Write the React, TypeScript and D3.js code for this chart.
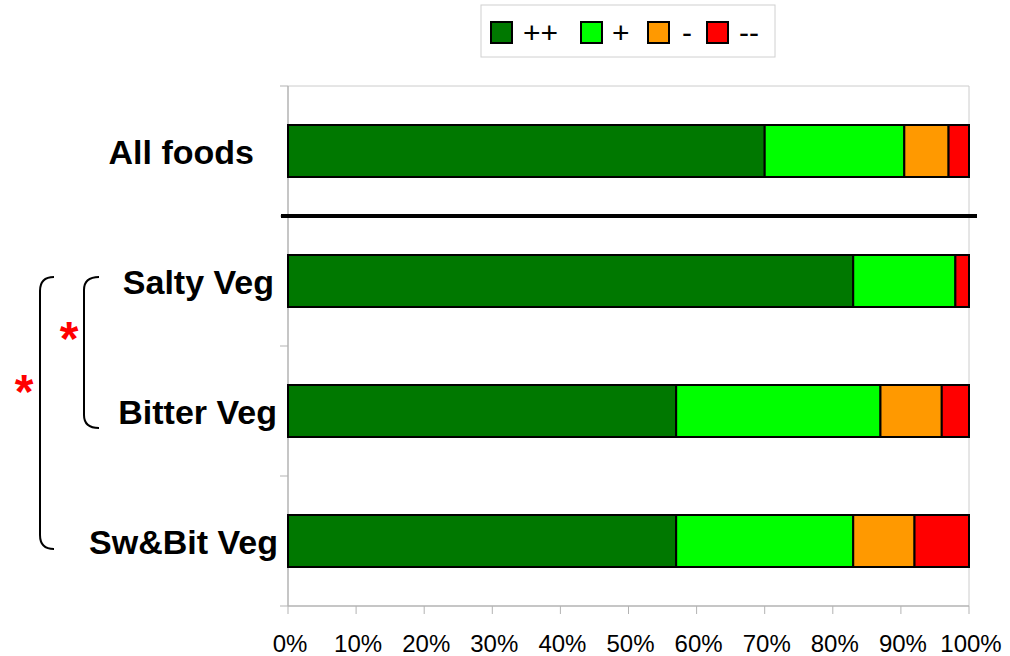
import React from "react";
import * as d3 from "d3";

const categories = ["All foods", "Salty Veg", "Bitter Veg", "Sw&Bit Veg"];
const seriesNames = ["++", "+", "-", "--"];
const seriesColors = ["#007800", "#00ff00", "#ff9900", "#ff0000"];
const vPlusPlus = [70, 83, 57, 57];
const vPlus = [20.5, 15, 30, 26];
const vMinus = [6.5, 0, 9, 9];
const vMinusMinus = [3, 2, 4, 8];
const xTicks = [0, 10, 20, 30, 40, 50, 60, 70, 80, 90, 100];

const W = 1010, H = 656;
const left = 288, right = 969, top = 86, bottom = 606;

export default function App() {
  const x = d3.scaleLinear().domain([0, 100]).range([left, right]);
  const y = d3.scaleBand<string>().domain(categories).range([top, bottom]).paddingInner(0.6).paddingOuter(0.3);
  const step = y.step();
  const series = [vPlusPlus, vPlus, vMinus, vMinusMinus];
  const stackData = categories.map((c, i) => {
    const o: any = { cat: c };
    seriesNames.forEach((s, k) => (o[s] = series[k][i]));
    return o;
  });
  const stacked = d3.stack<any>().keys(seriesNames)(stackData);
  const font = "Liberation Sans, Arial, sans-serif";
  const bandEdges = d3.range(categories.length + 1).map((i) => top + i * step);
  const labelOffsets = [-23, -3, 0, 1];

  const legendItems = [
    { sx: 491, tx: 523 },
    { sx: 581, tx: 612 },
    { sx: 648, tx: 682 },
    { sx: 707, tx: 739 },
  ];

  return (
    <svg width={W} height={H} style={{ position: "absolute", left: 0, top: 0 }}>
      <rect width={W} height={H} fill="#fff" />
      {/* plot frame */}
      <line x1={left} x2={right} y1={top} y2={top} stroke="#cccccc" strokeWidth={1} />
      <line x1={right} x2={right} y1={top} y2={bottom} stroke="#cccccc" strokeWidth={1} />
      <line x1={left} x2={left} y1={top} y2={bottom} stroke="#b3b3b3" strokeWidth={1.5} />
      <line x1={left} x2={right} y1={bottom} y2={bottom} stroke="#b3b3b3" strokeWidth={1.5} />
      {bandEdges.map((e, i) => (
        <line key={i} x1={left - 8} x2={left} y1={e} y2={e} stroke="#b3b3b3" strokeWidth={1} />
      ))}
      {xTicks.map((t) => (
        <g key={t}>
          <line x1={x(t)} x2={x(t)} y1={bottom} y2={bottom + 8} stroke="#b3b3b3" strokeWidth={1} />
          <text x={x(t) + 2} y={652} textAnchor="middle" fontFamily={font} fontSize={24} fill="#000">
            {t}%
          </text>
        </g>
      ))}
      {/* bars */}
      {stacked.map((s, k) =>
        s.map((d, i) =>
          d[1] - d[0] > 0 ? (
            <rect
              key={k + "-" + i}
              x={x(d[0])}
              y={y(categories[i])!}
              width={x(d[1]) - x(d[0])}
              height={y.bandwidth()}
              fill={seriesColors[k]}
              stroke="#000"
              strokeWidth={2}
            />
          ) : null
        )
      )}
      {/* separator */}
      <line x1={281} x2={977} y1={top + step} y2={top + step} stroke="#000" strokeWidth={4} />
      {/* category labels */}
      {categories.map((c, i) => (
        <text
          key={c}
          x={277 + labelOffsets[i]}
          y={y(c)! + y.bandwidth() / 2 + 13}
          textAnchor="end"
          fontFamily={font}
          fontWeight="bold"
          fontSize={34}
          fill="#000"
        >
          {c}
        </text>
      ))}
      {/* legend */}
      <rect x={481} y={5} width={294} height={52} fill="#fff" stroke="#d0d0d0" strokeWidth={1} />
      {seriesNames.map((s, k) => (
        <g key={s}>
          <rect x={legendItems[k].sx} y={22} width={21} height={21} fill={seriesColors[k]} stroke="#000" strokeWidth={2} />
          <text x={legendItems[k].tx} y={43} fontFamily={font} fontSize={30} fill="#000">
            {s}
          </text>
        </g>
      ))}
      {/* brackets */}
      <path d="M54,277 Q40,277 40,291 L40,535 Q40,549 54,549" fill="none" stroke="#000" strokeWidth={2} />
      <path d="M99,277 Q84,277 84,290 L84,415 Q84,428 99,428" fill="none" stroke="#000" strokeWidth={2} />
      <text x={69} y={355} textAnchor="middle" fontFamily={font} fontWeight="bold" fontSize={48} fill="#ff0000">*</text>
      <text x={24} y={408} textAnchor="middle" fontFamily={font} fontWeight="bold" fontSize={48} fill="#ff0000">*</text>
    </svg>
  );
}
